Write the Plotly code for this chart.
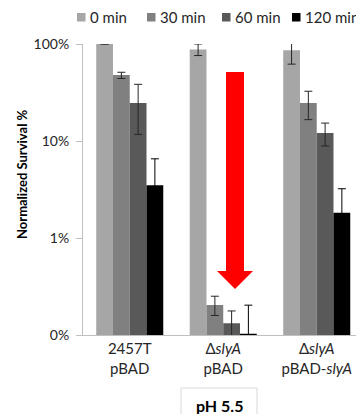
import plotly.graph_objects as go

categories = ["2457T<br>pBAD", "Δ<i>slyA</i><br>pBAD", "Δ<i>slyA</i><br>pBAD-<i>slyA</i>"]
series_names = ["0 min", "30 min", "60 min", "120 min"]
colors = ["#A6A6A6", "#808080", "#595959", "#000000"]
err_colors = ["#262626", "#262626", "#262626", "#000000"]

# Normalized survival (%)
surv_0 = [100, 88, 86]
surv_30 = [47.9, 0.204, 24.6]
surv_60 = [24.6, 0.132, 12.1]
surv_120 = [3.5, 0.103, 1.82]
err_plus_0 = [0.4, 12, 24]
err_plus_30 = [3.2, 0.047, 8]
err_plus_60 = [13.8, 0.045, 3.2]
err_plus_120 = [3.05, 0.1, 1.4]
err_minus_0 = [0.4, 12, 24]
err_minus_30 = [3.8, 0.045, 8]
err_minus_60 = [12.9, 0.045, 3.2]
err_minus_120 = [3.0, 0.05, 1.4]

values = [surv_0, surv_30, surv_60, surv_120]
eplus = [err_plus_0, err_plus_30, err_plus_60, err_plus_120]
eminus = [err_minus_0, err_minus_30, err_minus_60, err_minus_120]

ytick_vals = [0.1, 1, 10, 100]
ytick_text = ["0%", "1%", "10%", "100%"]

W, H = 356, 414
L, R, T, B = 83, 0, 44, 79
FONT = "Lato, Open Sans, sans-serif"

def px(x):
    return (x - L) / (W - L - R)

def py(y):
    return (H - B - y) / (H - T - B)

fig = go.Figure()
for name, col, ecol, v, ep, em in zip(series_names, colors, err_colors, values, eplus, eminus):
    fig.add_trace(go.Bar(
        name=name, x=categories, y=v, marker=dict(color=col, line=dict(width=0)),
        error_y=dict(type="data", array=ep, arrayminus=em, color=ecol, thickness=1, width=4),
        showlegend=False, hoverinfo="skip",
    ))

shapes = []
annotations = []

# Manual legend
leg_x = [77, 147, 222, 292]
for xpos, name, col in zip(leg_x, series_names, colors):
    shapes.append(dict(type="rect", xref="paper", yref="paper",
                       x0=px(xpos), x1=px(xpos + 8.5), y0=py(21.5), y1=py(13),
                       fillcolor=col, line=dict(width=0)))
    annotations.append(dict(text=name, xref="paper", yref="paper", x=px(xpos + 11), y=py(17),
                            xanchor="left", yanchor="middle", showarrow=False,
                            font=dict(family=FONT, size=15, color="#262626")))

# Red arrow
arrow_pts = [(226, 72), (244, 72), (244, 271), (253, 271), (235, 289), (217, 271), (226, 271)]
path = "M " + " L ".join(f"{px(a)},{py(b)}" for a, b in arrow_pts) + " Z"
shapes.append(dict(type="path", xref="paper", yref="paper", path=path,
                   fillcolor="#FF0000", line=dict(width=0)))

# pH box
shapes.append(dict(type="rect", xref="paper", yref="paper",
                   x0=px(181), x1=px(257), y0=py(420), y1=py(388),
                   line=dict(color="#D9D9D9", width=1), fillcolor="rgba(0,0,0,0)"))
annotations.append(dict(text="<b>pH 5.5</b>", xref="paper", yref="paper", x=px(219), y=py(405),
                        xanchor="center", yanchor="middle", showarrow=False,
                        font=dict(family=FONT, size=16, color="#000000")))

# Y axis title
annotations.append(dict(text="<b>Normalized Survival %</b>", xref="paper", yref="paper",
                        x=px(22), y=py(174), xanchor="center", yanchor="middle", textangle=-90,
                        showarrow=False, font=dict(family=FONT, size=13, color="#000000")))

fig.update_layout(
    width=W, height=H,
    margin=dict(l=L, r=R, t=T, b=B, pad=0),
    paper_bgcolor="white", plot_bgcolor="white",
    barmode="group", bargap=0.283, bargroupgap=0,
    shapes=shapes, annotations=annotations,
    font=dict(family=FONT, size=14, color="#262626"),
)
fig.update_xaxes(range=[-0.5, 2.42], showline=True, linecolor="#BFBFBF", linewidth=1,
                 ticks="", showgrid=False, tickfont=dict(family=FONT, size=15, color="#262626"))
fig.update_yaxes(type="log", range=[-1, 2], tickvals=ytick_vals, ticktext=ytick_text,
                 showline=True, linecolor="#BFBFBF", linewidth=1, ticks="outside",
                 ticklen=6, tickcolor="#BFBFBF", showgrid=False, zeroline=False,
                 ticklabelstandoff=4, tickfont=dict(family=FONT, size=14, color="#262626"))

fig.write_html("out.html", config={"displayModeBar": False},
               post_script="document.body.style.margin='0px';document.body.style.overflow='hidden';")
